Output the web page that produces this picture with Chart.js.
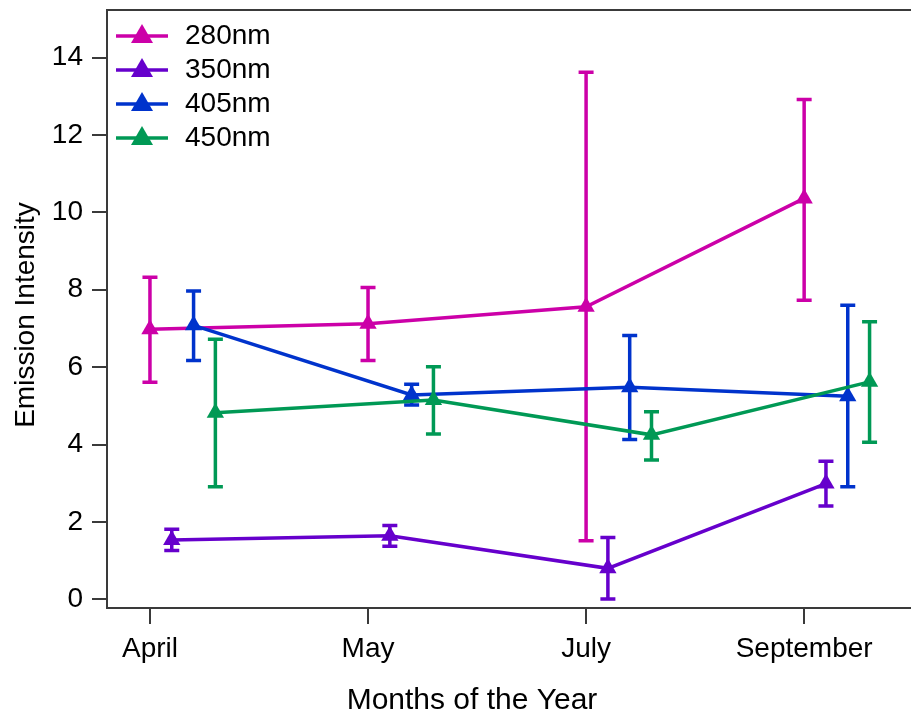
<!DOCTYPE html>
<html>
<head>
<meta charset="utf-8">
<script src="https://cdn.jsdelivr.net/npm/chart.js@4.4.1/dist/chart.umd.min.js"></script>
<style>
  html, body { margin: 0; padding: 0; background: #fff; }
  #wrap { width: 911px; height: 711px; position: relative; }
</style>
</head>
<body>
<div id="wrap"><canvas id="myChart"></canvas></div>
<script>
// categories on the x axis (positions 0..3, series are dodged to the right)
const months = ['April', 'May', 'July', 'September'];
const monthPos = [0, 1, 2, 3];
const yTicks = [0, 2, 4, 6, 8, 10, 12, 14];

const seriesNames = ['280nm', '350nm', '405nm', '450nm'];
const seriesColors = ['#CC00A8', '#6600CC', '#0033CC', '#009955'];
const seriesOffset = [0, 0.1, 0.2, 0.3];

// mean values and error bar ends (low / high)
const val280 = [6.98, 7.12, 7.56, 10.36];
const lo280  = [5.61, 6.17, 1.51, 7.73];
const hi280  = [8.32, 8.06, 13.62, 12.92];

const val350 = [1.53, 1.64, 0.80, 2.99];
const lo350  = [1.26, 1.37, 0.01, 2.41];
const hi350  = [1.81, 1.91, 1.60, 3.57];

const val405 = [7.08, 5.28, 5.48, 5.25];
const lo405  = [6.17, 5.02, 4.13, 2.91];
const hi405  = [7.97, 5.56, 6.82, 7.60];

const val450 = [4.82, 5.15, 4.25, 5.62];
const lo450  = [2.91, 4.27, 3.60, 4.06];
const hi450  = [6.72, 6.01, 4.85, 7.17];

const values = [val280, val350, val405, val450];
const lows = [lo280, lo350, lo405, lo450];
const highs = [hi280, hi350, hi405, hi450];

const FONT = "'Liberation Sans', Arial, sans-serif";
const AXIS = '#3a3a3a';

function legendIcon(color) {
  const c = document.createElement('canvas');
  c.width = 52; c.height = 26;
  const g = c.getContext('2d');
  g.strokeStyle = color; g.lineWidth = 3.5;
  g.beginPath(); g.moveTo(0, 13); g.lineTo(52, 13); g.stroke();
  g.fillStyle = color;
  g.beginPath(); g.moveTo(26, 1); g.lineTo(37, 20); g.lineTo(15, 20); g.closePath(); g.fill();
  return c;
}

const datasets = seriesNames.map((name, s) => ({
  label: name,
  data: values[s].map((v, i) => ({ x: monthPos[i] + seriesOffset[s], y: v })),
  errLow: lows[s],
  errHigh: highs[s],
  borderColor: seriesColors[s],
  backgroundColor: seriesColors[s],
  borderWidth: 3.5,
  pointStyle: 'triangle',
  pointRadius: 10,
  pointBorderWidth: 0,
  tension: 0,
  order: 4 - s,
  legendIcon: legendIcon(seriesColors[s])
}));

const errorBars = {
  id: 'errorBars',
  afterDatasetDraw(chart, args) {
    const ds = chart.data.datasets[args.index];
    const ys = chart.scales.y;
    const ctx = chart.ctx;
    ctx.save();
    ctx.strokeStyle = ds.borderColor;
    ctx.lineWidth = 3.5;
    args.meta.data.forEach((pt, i) => {
      const top = ys.getPixelForValue(ds.errHigh[i]);
      const bot = ys.getPixelForValue(ds.errLow[i]);
      ctx.beginPath();
      ctx.moveTo(pt.x, top); ctx.lineTo(pt.x, bot);
      ctx.moveTo(pt.x - 7.5, top); ctx.lineTo(pt.x + 7.5, top);
      ctx.moveTo(pt.x - 7.5, bot); ctx.lineTo(pt.x + 7.5, bot);
      ctx.stroke();
    });
    ctx.restore();
  }
};

// frame top line + axis titles
const frameAndTitles = {
  id: 'frameAndTitles',
  afterDraw(chart) {
    const ctx = chart.ctx;
    const a = chart.chartArea;
    ctx.save();
    ctx.strokeStyle = AXIS;
    ctx.lineWidth = 2;
    ctx.beginPath(); ctx.moveTo(a.left - 1, a.top); ctx.lineTo(a.right, a.top); ctx.stroke();

    ctx.fillStyle = '#000';
    ctx.textAlign = 'center';
    ctx.textBaseline = 'alphabetic';
    ctx.font = '30px ' + FONT;
    ctx.fillText('Months of the Year', 472, 709);

    ctx.font = '28px ' + FONT;
    ctx.translate(34, (a.top + a.bottom) / 2 + 6);
    ctx.rotate(-Math.PI / 2);
    ctx.fillText('Emission Intensity', 0, 0);
    ctx.restore();
  }
};

const ctx = document.getElementById('myChart').getContext('2d');
new Chart(ctx, {
  type: 'line',
  data: { datasets: datasets },
  plugins: [errorBars, frameAndTitles],
  options: {
    responsive: true,
    maintainAspectRatio: false,
    animation: false,
    layout: { autoPadding: false, padding: { top: 10, right: 0, left: 0, bottom: 0 } },
    plugins: {
      tooltip: { enabled: false },
      legend: {
        position: 'chartArea',
        align: 'start',
        title: { display: true, text: ' ', padding: 0, font: { size: 16, lineHeight: 1 } },
        labels: {
          usePointStyle: true,
          pointStyleWidth: 58,
          padding: 6,
          color: '#000',
          font: { family: FONT, size: 28 },
          sort: (a, b) => a.datasetIndex - b.datasetIndex,
          generateLabels(chart) {
            return chart.data.datasets.map((d, i) => ({
              text: d.label,
              pointStyle: d.legendIcon,
              fillStyle: d.borderColor,
              strokeStyle: d.borderColor,
              lineWidth: 0,
              fontColor: '#000',
              hidden: false,
              datasetIndex: i
            }));
          }
        }
      }
    },
    scales: {
      x: {
        type: 'linear',
        min: -0.197,
        max: 3.49,
        afterBuildTicks: s => { s.ticks = monthPos.map(v => ({ value: v })); },
        afterFit: s => { s.height = 103; s.paddingLeft = 0; s.paddingRight = 0; },
        border: { display: true, color: AXIS, width: 2 },
        grid: { display: true, drawOnChartArea: false, drawTicks: true, tickLength: 16, color: AXIS, lineWidth: 2 },
        ticks: {
          autoSkip: false, maxRotation: 0, padding: 8, color: '#000',
          font: { family: FONT, size: 28 },
          callback: v => months[monthPos.indexOf(v)]
        }
      },
      y: {
        type: 'linear',
        min: -0.225,
        max: 15.23,
        afterBuildTicks: s => { s.ticks = yTicks.map(v => ({ value: v })); },
        afterFit: s => { s.width = 107; s.paddingTop = 0; s.paddingBottom = 0; },
        border: { display: true, color: AXIS, width: 2 },
        grid: { display: true, drawOnChartArea: false, drawTicks: true, tickLength: 15, color: AXIS, lineWidth: 2 },
        ticks: {
          padding: 9, color: '#000',
          font: { family: FONT, size: 28 }
        }
      }
    }
  }
});
</script>
</body>
</html>
